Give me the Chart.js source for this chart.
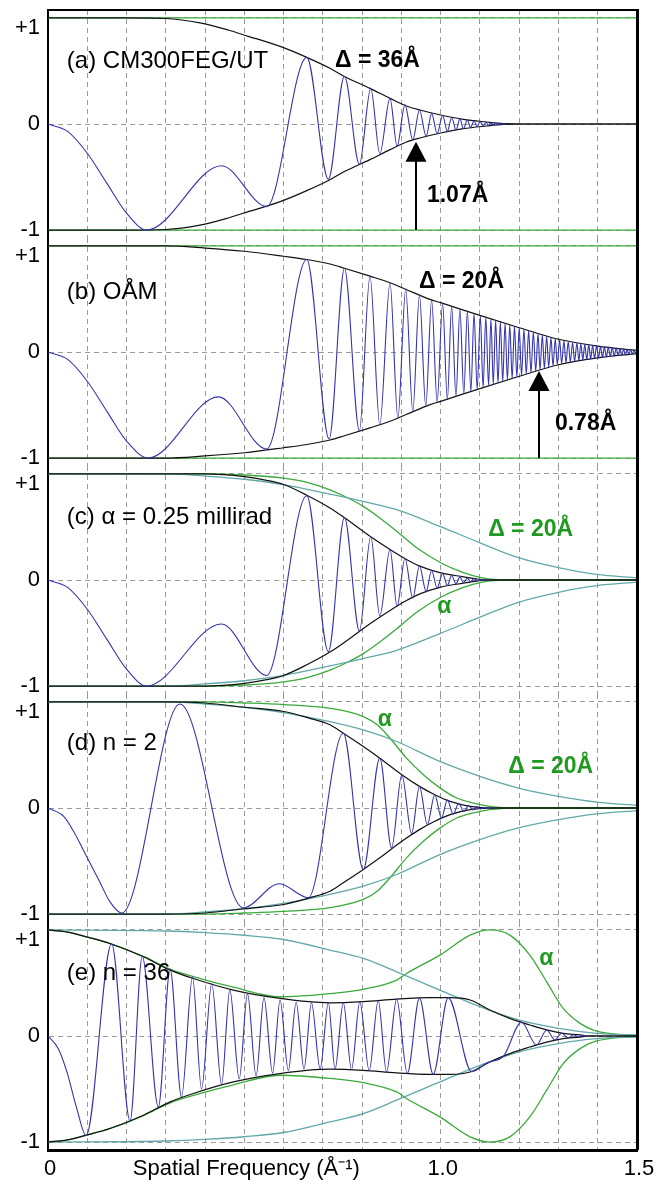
<!DOCTYPE html>
<html>
<head>
<meta charset="utf-8">
<title>CTF envelopes</title>
<script src="https://cdn.jsdelivr.net/npm/chart.js@4.4.0/dist/chart.umd.min.js"></script>
<style>
  html, body { margin: 0; padding: 0; background: #fff; }
  canvas { display: block; }
</style>
</head>
<body>
<div id="figure"></div>
<script>
// Axis ticks
const xTickValues = [0, 0.5, 1.0, 1.5];
const xTickText = ['0', 'Spatial Frequency (Å⁻¹)', '1.0', '1.5'];
const yTickValues = [-1, 0, 1];
const yTickText = ['-1', '0', '+1'];

// Each curve is a list of [spatial frequency, value].
// Envelopes are symmetric, the lower branch is drawn mirrored.

// (a) CM300FEG/UT, delta = 36 A
const alphaA = [[0, 1], [1.5, 1]];
const envA = [[0, 1], [0.2, 1], [0.3, 0.995], [0.387, 0.954], [0.459, 0.886], [0.514, 0.822], [0.557, 0.775],
  [0.6, 0.72], [0.659, 0.628], [0.718, 0.525], [0.756, 0.446], [0.82, 0.336], [0.871, 0.242], [0.913, 0.17],
  [0.947, 0.132], [1.0, 0.085], [1.058, 0.044], [1.117, 0.019], [1.16, 0.004], [1.2, 0], [1.5, 0]];
const ctfA = [[0, 0], [0.05, -0.07], [0.1, -0.276], [0.15, -0.56], [0.2, -0.84], [0.251, -1], [0.442, -0.393],
  [0.557, -0.779], [0.659, 0.628], [0.714, -0.52], [0.755, 0.45], [0.793, -0.38], [0.822, 0.336], [0.845, -0.28],
  [0.871, 0.242], [0.889, -0.21], [0.909, 0.18], [0.929, -0.15], [0.946, 0.132], [0.963, -0.115], [0.977, 0.1],
  [0.991, -0.09], [1.005, 0.08], [1.017, -0.07], [1.028, 0.062], [1.039, -0.055], [1.049, 0.048], [1.058, -0.044],
  [1.068, 0.038], [1.076, -0.033], [1.085, 0.028], [1.093, -0.025], [1.1, 0.022], [1.109, -0.019], [1.115, 0.016],
  [1.121, -0.013], [1.128, 0.011], [1.134, -0.009], [1.14, 0.007], [1.146, -0.005], [1.152, 0.004], [1.157, -0.002],
  [1.165, 0]];

// (b) OAM, delta = 20 A
const alphaB = [[0, 1], [1.5, 1]];
const envB = [[0, 1], [0.3, 1], [0.4, 0.98], [0.5, 0.95], [0.6, 0.903], [0.659, 0.872], [0.718, 0.83], [0.755, 0.79],
  [0.82, 0.715], [0.871, 0.653], [0.912, 0.59], [0.973, 0.496], [1.0, 0.465], [1.1, 0.345], [1.2, 0.229],
  [1.3, 0.12], [1.4, 0.056], [1.5, 0.015]];
const ctfB = [[0, 0], [0.05, -0.07], [0.1, -0.276], [0.15, -0.56], [0.2, -0.84], [0.255, -1], [0.434, -0.423],
  [0.557, -0.915], [0.659, 0.872], [0.716, -0.82], [0.755, 0.79], [0.793, -0.745], [0.82, 0.715], [0.845, -0.685],
  [0.871, 0.653], [0.891, -0.625], [0.911, 0.592], [0.929, -0.565], [0.946, 0.538], [0.962, -0.512], [0.977, 0.49],
  [0.991, -0.475], [1.005, 0.46], [1.017, -0.445], [1.028, 0.432], [1.039, -0.42], [1.049, 0.407], [1.059, -0.395],
  [1.068, 0.384], [1.077, -0.372], [1.085, 0.362], [1.093, -0.353], [1.101, 0.344], [1.108, -0.336], [1.115, 0.328],
  [1.122, -0.32], [1.128, 0.313], [1.134, -0.306], [1.14, 0.299], [1.146, -0.292], [1.152, 0.285], [1.158, -0.278],
  [1.164, 0.271], [1.17, -0.264], [1.176, 0.257], [1.182, -0.25], [1.188, 0.243], [1.194, -0.236], [1.2, 0.229],
  [1.206, -0.222], [1.212, 0.215], [1.218, -0.208], [1.224, 0.201], [1.23, -0.194], [1.236, 0.187], [1.242, -0.18],
  [1.248, 0.173], [1.253, -0.167], [1.259, 0.161], [1.264, -0.155], [1.27, 0.148], [1.275, -0.142], [1.281, 0.136],
  [1.286, -0.13], [1.292, 0.125], [1.297, -0.12], [1.303, 0.115], [1.308, -0.11], [1.314, 0.106], [1.319, -0.102],
  [1.325, 0.098], [1.33, -0.094], [1.336, 0.09], [1.341, -0.087], [1.347, 0.084], [1.352, -0.081], [1.357, 0.078],
  [1.362, -0.075], [1.367, 0.072], [1.372, -0.07], [1.377, 0.067], [1.382, -0.065], [1.387, 0.062], [1.392, -0.06],
  [1.397, 0.058], [1.402, -0.055], [1.407, 0.053], [1.412, -0.051], [1.417, 0.049], [1.422, -0.047], [1.427, 0.045],
  [1.432, -0.043], [1.437, 0.041], [1.442, -0.039], [1.447, 0.037], [1.452, -0.035], [1.457, 0.033], [1.461, -0.031],
  [1.466, 0.029], [1.47, -0.027], [1.475, 0.025], [1.479, -0.023], [1.484, 0.021], [1.488, -0.02], [1.493, 0.018],
  [1.497, -0.016], [1.5, 0.015]];

// (c) alpha = 0.25 millirad
const alphaC = [[0, 1], [0.4, 1], [0.5, 0.99], [0.6, 0.96], [0.66, 0.92], [0.718, 0.85], [0.76, 0.78], [0.803, 0.694],
  [0.845, 0.585], [0.888, 0.46], [0.939, 0.304], [1.0, 0.163], [1.058, 0.069], [1.1, 0.025], [1.134, 0.006],
  [1.17, 0], [1.5, 0]];
const deltaC = [[0, 1], [0.3, 1], [0.4, 0.98], [0.5, 0.95], [0.6, 0.9], [0.718, 0.81], [0.803, 0.741], [0.888, 0.663],
  [0.998, 0.506], [1.1, 0.351], [1.198, 0.21], [1.3, 0.116], [1.397, 0.053], [1.5, 0.02]];
const envC = [[0, 1], [0.4, 1], [0.5, 0.975], [0.557, 0.94], [0.6, 0.9], [0.659, 0.8], [0.718, 0.68], [0.756, 0.585],
  [0.82, 0.413], [0.871, 0.288], [0.913, 0.194], [0.947, 0.131], [0.998, 0.069], [1.058, 0.03], [1.092, 0.01],
  [1.125, 0], [1.5, 0]];
const ctfC = [[0, 0], [0.05, -0.07], [0.1, -0.276], [0.15, -0.56], [0.2, -0.84], [0.251, -1], [0.442, -0.415],
  [0.557, -0.9], [0.659, 0.794], [0.714, -0.675], [0.755, 0.59], [0.793, -0.48], [0.822, 0.41], [0.845, -0.34],
  [0.871, 0.288], [0.889, -0.25], [0.909, 0.205], [0.929, -0.17], [0.946, 0.135], [0.963, -0.11], [0.977, 0.09],
  [0.991, -0.076], [1.005, 0.062], [1.017, -0.052], [1.028, 0.043], [1.039, -0.035], [1.049, 0.029], [1.058, -0.025],
  [1.068, 0.02], [1.076, -0.016], [1.085, 0.012], [1.093, -0.009], [1.1, 0.007], [1.109, -0.004], [1.115, 0.002],
  [1.121, 0]];

// (d) n = 2
const alphaD = [[0, 1], [0.4, 1], [0.5, 0.99], [0.6, 0.975], [0.718, 0.94], [0.803, 0.862], [0.84, 0.78], [0.871, 0.658],
  [0.913, 0.47], [0.956, 0.314], [0.998, 0.19], [1.041, 0.094], [1.083, 0.047], [1.125, 0.016], [1.16, 0.003],
  [1.18, 0], [1.5, 0]];
const deltaD = [[0, 1], [0.3, 1], [0.4, 0.98], [0.5, 0.95], [0.6, 0.9], [0.718, 0.815], [0.803, 0.737], [0.888, 0.627],
  [0.998, 0.439], [1.1, 0.298], [1.198, 0.188], [1.3, 0.11], [1.397, 0.056], [1.5, 0.025]];
const envD = [[0, 1], [0.3, 1], [0.4, 0.99], [0.5, 0.95], [0.6, 0.91], [0.663, 0.85], [0.718, 0.785], [0.752, 0.705],
  [0.803, 0.58], [0.845, 0.47], [0.901, 0.314], [0.946, 0.204], [0.985, 0.125], [1.024, 0.063], [1.075, 0.016],
  [1.134, 0], [1.5, 0]];
const ctfD = [[0, 0], [0.04, -0.08], [0.065, -0.22], [0.1, -0.47], [0.131, -0.69], [0.157, -0.88], [0.188, -0.99],
  [0.336, 0.98], [0.497, -0.94], [0.589, -0.715], [0.663, -0.846], [0.752, 0.705], [0.803, -0.58], [0.845, 0.47],
  [0.875, -0.376], [0.901, 0.314], [0.926, -0.24], [0.946, 0.204], [0.966, -0.157], [0.985, 0.125], [1.002, -0.095],
  [1.017, 0.075], [1.032, -0.058], [1.046, 0.045], [1.059, -0.034], [1.071, 0.025], [1.082, -0.018], [1.092, 0.013],
  [1.101, -0.009], [1.11, 0.006], [1.118, -0.004], [1.126, 0.002], [1.134, 0]];

// (e) n = 36
const alphaE = [[0, 1], [0.05, 0.98], [0.098, 0.935], [0.158, 0.872], [0.243, 0.75], [0.311, 0.63], [0.37, 0.56],
  [0.472, 0.46], [0.591, 0.37], [0.718, 0.4], [0.803, 0.44], [0.888, 0.527], [0.913, 0.589], [0.998, 0.763],
  [1.075, 0.951], [1.125, 1.0], [1.176, 0.951], [1.227, 0.763], [1.27, 0.511], [1.312, 0.26], [1.355, 0.119],
  [1.389, 0.056], [1.44, 0.02], [1.5, 0.005]];
const deltaE = [[0, 1], [0.3, 0.99], [0.4, 0.975], [0.5, 0.95], [0.6, 0.91], [0.718, 0.81], [0.803, 0.731],
  [0.888, 0.605], [0.998, 0.433], [1.1, 0.276], [1.198, 0.151], [1.3, 0.072], [1.397, 0.025], [1.5, 0.01]];
const envE = [[0, 1], [0.05, 0.98], [0.098, 0.935], [0.158, 0.872], [0.243, 0.747], [0.311, 0.621], [0.37, 0.542],
  [0.472, 0.433], [0.591, 0.354], [0.718, 0.313], [0.803, 0.324], [0.888, 0.348], [0.973, 0.361], [1.024, 0.361],
  [1.075, 0.339], [1.125, 0.245], [1.176, 0.166], [1.227, 0.104], [1.27, 0.057], [1.312, 0.025], [1.355, 0.01],
  [1.375, 0], [1.5, 0]];
const ctfE = [[0, 0], [0.026, -0.117], [0.048, -0.336], [0.073, -0.68], [0.097, -0.94], [0.162, 0.87], [0.209, -0.8],
  [0.24, 0.75], [0.281, -0.67], [0.311, 0.63], [0.34, -0.575], [0.368, 0.555], [0.391, -0.5], [0.417, 0.495],
  [0.442, -0.46], [0.463, 0.435], [0.487, -0.405], [0.508, 0.4], [0.53, -0.375], [0.55, 0.362], [0.572, -0.35],
  [0.591, 0.34], [0.612, -0.325], [0.632, 0.318], [0.652, -0.312], [0.671, 0.313], [0.693, -0.31], [0.714, 0.313],
  [0.731, -0.313], [0.752, 0.315], [0.773, -0.318], [0.794, 0.322], [0.818, -0.328], [0.841, 0.335], [0.862, -0.34],
  [0.888, 0.348], [0.915, -0.352], [0.946, 0.357], [0.981, -0.36], [1.019, 0.362], [1.079, -0.336], [1.12, -0.25],
  [1.16, -0.19], [1.206, 0.13], [1.244, -0.085], [1.27, 0.057], [1.291, -0.038], [1.308, 0.026], [1.325, -0.018],
  [1.338, 0.012], [1.35, -0.008], [1.363, 0.004], [1.375, 0]];

const FONT = '"Liberation Sans", Arial, Helvetica, sans-serif';
const BLUE = '#3434ad';
const BLACK = '#111111';
const GREEN = '#3aaa3a';
const TEAL = '#62a8a8';
const TEXT_GREEN = '#1f9a1f';
const GRID = '#9a9a9a';

Chart.defaults.font.family = FONT;

const panels = [
  { ctf: ctfA, env: envA, alpha: alphaA, height: 238, top: 10,
    texts: [
      { text: '(a) CM300FEG/UT', x: 0.048, y: 0.593 },
      { text: 'Δ = 36Å', x: 0.731, y: 0.595, bold: true },
      { text: '1.07Å', x: 0.965, y: -0.672, bold: true }
    ],
    arrows: [{ x: 0.936, from: -1, to: -0.167 }] },
  { ctf: ctfB, env: envB, alpha: alphaB, height: 228, top: 0,
    texts: [
      { text: '(b) OÅM', x: 0.048, y: 0.56 },
      { text: 'Δ = 20Å', x: 0.945, y: 0.66, bold: true },
      { text: '0.78Å', x: 1.291, y: -0.68, bold: true }
    ],
    arrows: [{ x: 1.251, from: -1, to: -0.179 }] },
  { ctf: ctfC, env: envC, alpha: alphaC, delta: deltaC, height: 228, top: 0,
    texts: [
      { text: '(c) α = 0.25 millirad', x: 0.048, y: 0.59 },
      { text: 'Δ = 20Å', x: 1.121, y: 0.477, bold: true, color: TEXT_GREEN },
      { text: 'α', x: 0.991, y: -0.252, bold: true, color: TEXT_GREEN }
    ] },
  { ctf: ctfD, env: envD, alpha: alphaD, delta: deltaD, height: 228, top: 0,
    texts: [
      { text: '(d) n = 2', x: 0.048, y: 0.612 },
      { text: 'α', x: 0.84, y: 0.832, bold: true, color: TEXT_GREEN },
      { text: 'Δ = 20Å', x: 1.172, y: 0.393, bold: true, color: TEXT_GREEN }
    ] },
  { ctf: ctfE, env: envE, alpha: alphaE, delta: deltaE, height: 263, top: 0,
    texts: [
      { text: '(e) n = 36', x: 0.048, y: 0.59 },
      { text: 'α', x: 1.251, y: 0.73, bold: true, color: TEXT_GREEN }
    ] }
];

function curve(points, sign, color, width, order) {
  return {
    data: points.map(p => ({ x: p[0], y: sign * p[1] })),
    borderColor: color,
    borderWidth: width,
    pointRadius: 0,
    fill: false,
    cubicInterpolationMode: 'monotone',
    order: order
  };
}

// labels, arrows
const annotate = {
  id: 'annotate',
  afterDatasetsDraw(chart, args, opts) {
    const { ctx, scales: { x, y } } = chart;
    ctx.save();
    (opts.arrows || []).forEach(a => {
      const px = Math.round(x.getPixelForValue(a.x));
      const tip = y.getPixelForValue(a.to);
      ctx.strokeStyle = '#000';
      ctx.fillStyle = '#000';
      ctx.lineWidth = 2;
      ctx.beginPath();
      ctx.moveTo(px, y.getPixelForValue(a.from));
      ctx.lineTo(px, tip + 18);
      ctx.stroke();
      ctx.beginPath();
      ctx.moveTo(px, tip);
      ctx.lineTo(px - 10.5, tip + 20);
      ctx.lineTo(px + 10.5, tip + 20);
      ctx.closePath();
      ctx.fill();
    });
    (opts.texts || []).forEach(t => {
      ctx.font = (t.bold ? 'bold 23px ' : '24px ') + FONT;
      ctx.fillStyle = t.color || '#000';
      ctx.textAlign = 'left';
      ctx.textBaseline = 'middle';
      ctx.fillText(t.text, x.getPixelForValue(t.x), y.getPixelForValue(t.y));
    });
    ctx.restore();
  }
};

// right edge and top edge of the box
const frame = {
  id: 'frame',
  afterDraw(chart, args, opts) {
    const { ctx, chartArea: a } = chart;
    ctx.save();
    ctx.strokeStyle = '#000';
    ctx.lineWidth = 3;
    ctx.beginPath();
    ctx.moveTo(a.right + 0.5, a.top);
    ctx.lineTo(a.right + 0.5, a.bottom);
    ctx.stroke();
    if (opts.top) {
      ctx.lineWidth = 2;
      ctx.beginPath();
      ctx.moveTo(a.left - 1, a.top);
      ctx.lineTo(a.right + 2, a.top);
      ctx.stroke();
    }
    ctx.restore();
  }
};

const near = (a, b) => Math.abs(a - b) < 1e-6;

panels.forEach((p, i) => {
  const last = i === panels.length - 1;
  const canvas = document.createElement('canvas');
  canvas.width = 661;
  canvas.height = p.height;
  document.getElementById('figure').appendChild(canvas);

  const datasets = [];
  datasets.push(curve(p.alpha, 1, GREEN, 1.3, 3), curve(p.alpha, -1, GREEN, 1.3, 3));
  if (p.delta) datasets.push(curve(p.delta, 1, TEAL, 1.3, 2), curve(p.delta, -1, TEAL, 1.3, 2));
  datasets.push(curve(p.env, 1, BLACK, 1.2, 1), curve(p.env, -1, BLACK, 1.2, 1));
  datasets.push(curve(p.ctf, 1, BLUE, 1.1, 0));

  new Chart(canvas, {
    type: 'line',
    data: { datasets },
    plugins: [annotate, frame],
    options: {
      responsive: false,
      animation: false,
      events: [],
      layout: { padding: { top: p.top, right: 24, left: 0, bottom: 0 } },
      plugins: {
        legend: { display: false },
        tooltip: { enabled: false },
        annotate: { texts: p.texts, arrows: p.arrows },
        frame: { top: i === 0 }
      },
      scales: {
        x: {
          type: 'linear',
          min: 0,
          max: 1.5,
          ticks: {
            display: last,
            stepSize: 0.1,
            autoSkip: false,
            maxRotation: 0,
            minRotation: 0,
            padding: 6,
            labelOffset: 2,
            color: '#000',
            font: { size: 22 },
            callback: v => {
              const k = xTickValues.findIndex(t => near(t, v));
              return k < 0 ? '' : xTickText[k];
            }
          },
          grid: {
            drawTicks: false,
            lineWidth: 1,
            color: c => (c.tick && (near(c.tick.value, 0) || near(c.tick.value, 1.5))) ? 'rgba(0,0,0,0)' : GRID
          },
          border: { display: last, color: '#000', width: 3, dash: [5, 4] },
          afterFit: s => { s.height = last ? 35 : 0; s.paddingLeft = 0; }
        },
        y: {
          type: 'linear',
          min: -1.075,
          max: 1.075,
          // the "+1" label sits a little under its line in the original
          afterBuildTicks: s => {
            s.ticks = [{ value: -1 }, { value: 0 }, { value: 0.905 }, { value: 1 }];
          },
          ticks: {
            padding: 8,
            color: '#000',
            font: { size: 22 },
            callback: v => {
              if (near(v, 0.905)) return yTickText[2];
              if (near(v, 1)) return '';
              const k = yTickValues.findIndex(t => near(t, v));
              return k < 0 ? '' : yTickText[k];
            }
          },
          grid: {
            drawTicks: false,
            lineWidth: 1,
            color: c => (c.tick && near(c.tick.value, 0.905)) ? 'rgba(0,0,0,0)' : GRID
          },
          border: { display: true, color: '#000', width: 2, dash: [5, 4] },
          afterFit: s => { s.width = 48; s.paddingTop = 0; s.paddingBottom = 0; }
        }
      }
    }
  });
});
</script>
</body>
</html>
